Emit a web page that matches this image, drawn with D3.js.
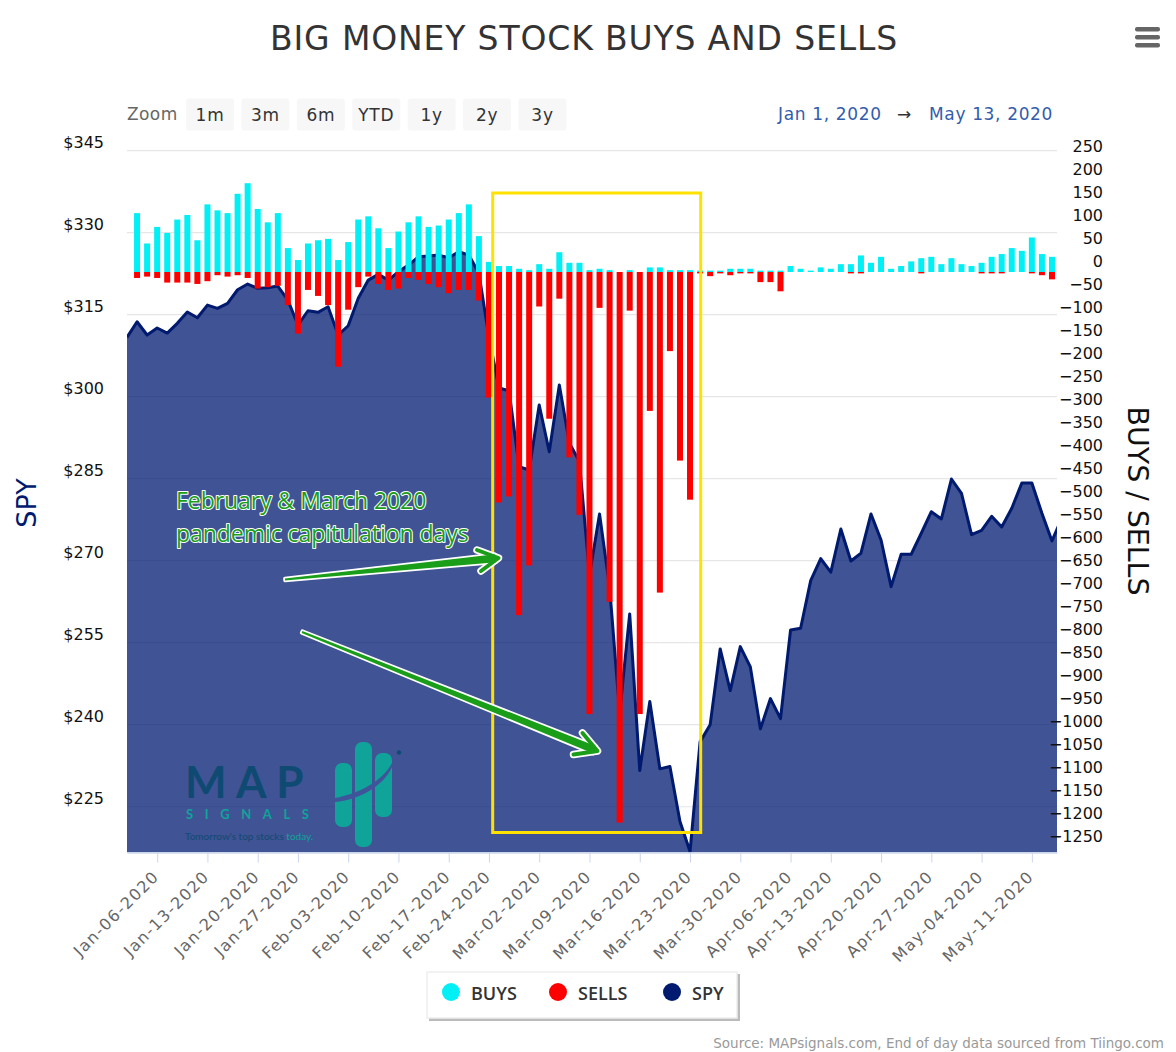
<!DOCTYPE html>
<html>
<head>
<meta charset="utf-8">
<script src="https://cdn.jsdelivr.net/npm/d3@7"></script>
<style>
	html, body { margin: 0; padding: 0; background: #fff; }
	svg { display: block; font-family: "DejaVu Sans", sans-serif; }
</style>
</head>
<body>
<div id="chart"></div>
<script>
// Trading day index 0 = Dec-31-2019, line runs one day past the last bar
const tickDays = [3, 8, 13, 17, 22, 27, 32, 36, 41, 46, 51, 56, 61, 66, 70, 75, 80, 85, 90];
const tickLabels = ["Jan-06-2020", "Jan-13-2020", "Jan-20-2020", "Jan-27-2020", "Feb-03-2020", "Feb-10-2020", "Feb-17-2020", "Feb-24-2020", "Mar-02-2020", "Mar-09-2020", "Mar-16-2020", "Mar-23-2020", "Mar-30-2020", "Apr-06-2020", "Apr-13-2020", "Apr-20-2020", "Apr-27-2020", "May-04-2020", "May-11-2020"];

const spyTicks = [345, 330, 315, 300, 285, 270, 255, 240, 225];
const flowTicks = d3.range(250, -1251, -50);

const spy = [
	310.85, 313.70, 311.27, 312.55, 311.63, 313.41, 315.47, 314.43, 316.75, 316.15,
	317.06, 319.55, 320.59, 319.81, 319.92, 320.23, 317.67, 313.10, 315.71, 315.42,
	316.44, 311.27, 312.97, 317.98, 321.32, 322.36, 321.32, 322.84, 324.06, 325.58,
	325.71, 325.89, 325.40, 326.50, 325.89, 322.55, 310.90, 301.58, 301.08, 287.19,
	286.59, 298.47, 289.93, 302.13, 291.52, 288.11, 267.39, 278.54, 265.20, 242.16,
	260.26, 231.62, 244.23, 231.93, 232.35, 222.29, 216.81, 236.86, 239.98, 253.86,
	246.24, 254.28, 250.58, 239.24, 244.78, 241.12, 257.34, 257.65, 266.35, 270.37,
	267.89, 275.80, 269.95, 271.36, 278.54, 273.79, 265.25, 271.18, 271.18, 275.02,
	278.96, 277.63, 284.94, 282.33, 274.76, 275.56, 278.12, 276.17, 279.59, 284.21,
	284.21, 278.67, 273.61, 277.87
];

// Bars start at trading day 1
const buys = [
	128, 62, 98, 85, 114, 124, 69, 147, 134, 128, 170, 193, 137, 108, 128, 52, 26, 62, 69, 72,
	26, 65, 114, 121, 95, 52, 88, 108, 121, 98, 101, 114, 128, 147, 78,
	22, 13, 13, 7, 4, 17, 7, 43, 20, 20, 4, 7, 4, 0, 4, 0, 10, 10, 4, 4, 4,
	3, 3, 3, 7, 7, 7, 3, 3, 3,
	13, 7, 3, 10, 7, 17, 17, 36, 20, 33, 7, 13, 23, 30, 33, 17, 30, 17, 13, 20, 33, 39, 52, 46, 75, 39, 33
];
const sells = [
	-13, -10, -13, -23, -23, -23, -26, -20, -7, -10, -7, -13, -36, -33, -30, -72, -134, -39, -52, -72,
	-206, -82, -33, -10, -26, -39, -36, -13, -17, -26, -33, -46, -39, -39, -62,
	-273, -501, -488, -746, -638, -75, -319, -58, -403, -528, -961, -78, -717, -1197, -84, -961, -302, -697, -172, -410, -495,
	-3, -9, -3, -7, -3, -3, -22, -22, -42,
	0, 0, 0, 0, 0, 0, -3, -3, 0, 0, 0, 0, 0, -3, 0, 0, 0, 0, 0, -3, -3, -3, 0, 0, -3, -7, -16
];

const zoomLabels = ["1m", "3m", "6m", "YTD", "1y", "2y", "3y"];
const legendItems = [
	{ name: "BUYS", color: "#00f0f5" },
	{ name: "SELLS", color: "#ff0000" },
	{ name: "SPY", color: "#001a70" }
];

// Plot box
const width = 1176, height = 1052;
const plotLeft = 127, plotRight = 1057, plotTop = 149.5, plotBottom = 852.5;

const x = d3.scaleLinear().domain([0, 92.5]).range([plotLeft, plotRight]);
const ySpy = d3.scaleLinear().domain([345.2, 216.63]).range([plotTop, plotBottom]);
const yFlow = d3.scaleLinear().domain([266.3, -1262]).range([plotTop, plotBottom]);

const svg = d3.select("#chart").append("svg")
	.attr("width", width)
	.attr("height", height)
	.attr("viewBox", [0, 0, width, height]);

svg.append("defs").append("clipPath")
	.attr("id", "plot-clip")
	.append("rect")
	.attr("x", plotLeft)
	.attr("y", plotTop - 2)
	.attr("width", plotRight - plotLeft)
	.attr("height", plotBottom - plotTop + 2);

// Title
svg.append("text")
	.attr("x", 584)
	.attr("y", 49.5)
	.attr("text-anchor", "middle")
	.attr("fill", "#333")
	.style("font-size", "33px")
	.style("letter-spacing", "0.85px")
	.text("BIG MONEY STOCK BUYS AND SELLS");

// Menu icon
svg.append("g")
	.selectAll("rect")
	.data([0, 1, 2])
	.join("rect")
	.attr("x", 1135)
	.attr("y", d => 27 + d * 8)
	.attr("width", 25)
	.attr("height", 4.5)
	.attr("rx", 2)
	.attr("fill", "#666");

// Range selector
svg.append("text")
	.attr("x", 127)
	.attr("y", 120)
	.attr("fill", "#666")
	.style("font-size", "17px")
	.style("letter-spacing", "0.4px")
	.text("Zoom");

const buttonScale = d3.scalePoint().domain(zoomLabels).range([210, 542.5]);
const buttons = svg.append("g")
	.selectAll("g")
	.data(zoomLabels)
	.join("g")
	.attr("transform", d => `translate(${buttonScale(d)}, 114.5)`);
buttons.append("rect")
	.attr("x", -24)
	.attr("y", -16)
	.attr("width", 48)
	.attr("height", 32)
	.attr("rx", 3)
	.attr("fill", "#f7f7f7");
buttons.append("text")
	.attr("y", 6)
	.attr("text-anchor", "middle")
	.attr("fill", "#333")
	.style("font-size", "17px")
	.style("letter-spacing", "0.7px")
	.text(d => d);

const rangeText = svg.append("g")
	.attr("fill", "#335cad")
	.style("font-size", "17px")
	.style("letter-spacing", "0.65px");
rangeText.append("text").attr("x", 778).attr("y", 120).text("Jan 1, 2020");
rangeText.append("text").attr("x", 897).attr("y", 120).attr("fill", "#333").text("→");
rangeText.append("text").attr("x", 929).attr("y", 120).text("May 13, 2020");

// Gridlines
svg.append("g")
	.selectAll("line")
	.data(spyTicks)
	.join("line")
	.attr("x1", plotLeft)
	.attr("x2", plotRight)
	.attr("y1", d => ySpy(d))
	.attr("y2", d => ySpy(d))
	.attr("stroke", "#e6e6e6")
	.attr("stroke-width", 1.2);

// SPY area and line
const plot = svg.append("g").attr("clip-path", "url(#plot-clip)");
const spyRows = spy.map((v, i) => [i, v]);

plot.append("path")
	.datum(spyRows)
	.attr("fill", "#001a70")
	.attr("fill-opacity", 0.75)
	.attr("d", d3.area().x(d => x(d[0])).y0(plotBottom).y1(d => ySpy(d[1])));

plot.append("path")
	.datum(spyRows)
	.attr("fill", "none")
	.attr("stroke", "#001a70")
	.attr("stroke-width", 3)
	.attr("stroke-linejoin", "round")
	.attr("d", d3.line().x(d => x(d[0])).y(d => ySpy(d[1])));

// Logo sits on the area
function drawLogo() {
	const logo = svg.append("g");
	logo.append("text")
		.attr("x", 185)
		.attr("y", 797.5)
		.attr("fill", "#0f4a73")
		.style("font-family", "Lato, sans-serif")
		.style("font-size", "44px")
		.style("font-weight", 700)
		.style("letter-spacing", "9.5px")
		.text("MAP");
	logo.append("text")
		.attr("x", 186)
		.attr("y", 819)
		.attr("fill", "#0fa39a")
		.style("font-family", "Lato, sans-serif")
		.style("font-size", "13px")
		.style("font-weight", 700)
		.style("letter-spacing", "11.6px")
		.text("SIGNALS");
	const tag = logo.append("text")
		.attr("x", 185)
		.attr("y", 840)
		.attr("fill", "#0f4a73")
		.style("font-family", "Lato, sans-serif")
		.style("font-size", "10px");
	tag.append("tspan").text("Tomorrow's top stocks ");
	tag.append("tspan").attr("fill", "#0fa39a").text("today.");

	logo.selectAll("rect")
		.data([[335, 763, 64], [355, 742, 105], [375, 753, 64]])
		.join("rect")
		.attr("x", d => d[0])
		.attr("y", d => d[1])
		.attr("width", 17)
		.attr("height", d => d[2])
		.attr("rx", 7)
		.attr("fill", "#0fa39a");
	logo.append("path")
		.attr("d", "M335,798 C358,794 383,781 392,763 L392,767 C383,787 358,800 335,802 Z")
		.attr("fill", "#40549a");
	logo.append("circle")
		.attr("cx", 399)
		.attr("cy", 752.5)
		.attr("r", 2.2)
		.attr("fill", "#0f4a73");
}
drawLogo();

// Buy and sell bars
const barWidth = 6;
svg.append("g")
	.attr("fill", "#00f0f5")
	.selectAll("rect")
	.data(buys)
	.join("rect")
	.attr("x", (d, i) => x(i + 1) - barWidth / 2)
	.attr("y", d => yFlow(d))
	.attr("width", barWidth)
	.attr("height", d => yFlow(0) - yFlow(d));

svg.append("g")
	.attr("fill", "#ff0000")
	.selectAll("rect")
	.data(sells)
	.join("rect")
	.attr("x", (d, i) => x(i + 1) - barWidth / 2)
	.attr("y", yFlow(0))
	.attr("width", barWidth)
	.attr("height", d => yFlow(d) - yFlow(0));

// Axes
const xAxis = svg.append("g")
	.attr("transform", `translate(0, ${plotBottom})`)
	.call(d3.axisBottom(x)
		.tickValues(tickDays)
		.tickFormat((d, i) => tickLabels[i])
		.tickSize(10)
		.tickSizeOuter(0)
		.tickPadding(4));
xAxis.select(".domain")
	.attr("stroke", "#ccd6eb")
	.attr("stroke-width", 1.5);
xAxis.selectAll(".tick line").attr("stroke", "#ccd6eb");
xAxis.selectAll(".tick text")
	.attr("text-anchor", "end")
	.attr("transform", "rotate(-45) translate(-16, -6)")
	.attr("fill", "#666")
	.style("font-family", "\"DejaVu Sans\", sans-serif")
	.style("font-size", "16px")
	.style("letter-spacing", "1.4px");

const leftAxis = svg.append("g")
	.attr("transform", `translate(${plotLeft}, 0)`)
	.call(d3.axisLeft(ySpy)
		.tickValues(spyTicks)
		.tickFormat(d => "$" + d)
		.tickSize(0)
		.tickPadding(23));
leftAxis.select(".domain").remove();
leftAxis.selectAll(".tick text")
	.attr("y", -8)
	.attr("fill", "#111")
	.style("font-family", "\"DejaVu Sans\", sans-serif")
	.style("font-size", "16px");

const rightAxis = svg.append("g")
	.attr("transform", "translate(1103, 0)")
	.call(d3.axisLeft(yFlow)
		.tickValues(flowTicks)
		.tickFormat(d => String(d).replace("-", "\u2212"))
		.tickSize(0)
		.tickPadding(0));
rightAxis.select(".domain").remove();
rightAxis.selectAll(".tick text")
	.attr("y", -11)
	.attr("fill", "#111")
	.style("font-family", "\"DejaVu Sans\", sans-serif")
	.style("font-size", "16px");

// Axis titles
svg.append("text")
	.attr("transform", "translate(36, 503) rotate(-90)")
	.attr("text-anchor", "middle")
	.attr("fill", "#001a70")
	.style("font-size", "27px")
	.text("SPY");
svg.append("text")
	.attr("transform", "translate(1128, 501) rotate(90)")
	.attr("text-anchor", "middle")
	.attr("fill", "#111")
	.style("font-size", "28.4px")
	.text("BUYS / SELLS");

// Annotation box around the capitulation days
svg.append("rect")
	.attr("x", 492.7)
	.attr("y", 193)
	.attr("width", 208)
	.attr("height", 639.5)
	.attr("fill", "none")
	.attr("stroke", "#ffe100")
	.attr("stroke-width", 3);

// Tapered arrow from tail to tip with thick open barbs
function drawArrow(tail, tip, barbA, barbB) {
	const dx = tip[0] - tail[0], dy = tip[1] - tail[1];
	const len = Math.hypot(dx, dy);
	const nx = -dy / len, ny = dx / len;
	const shaft = [
		[tail[0] + nx * 1, tail[1] + ny * 1],
		[tip[0] - dx / len * 3 + nx * 4, tip[1] - dy / len * 3 + ny * 4],
		[tip[0] - dx / len * 3 - nx * 4, tip[1] - dy / len * 3 - ny * 4],
		[tail[0] - nx * 1, tail[1] - ny * 1]
	];
	const head = [barbA, tip, barbB];
	const arrow = svg.append("g")
		.attr("stroke-linejoin", "round")
		.attr("stroke-linecap", "round");
	// white outline first, green on top
	arrow.append("path")
		.attr("d", d3.line()(shaft) + "Z")
		.attr("fill", "#fff")
		.attr("stroke", "#fff")
		.attr("stroke-width", 3.5);
	arrow.append("path")
		.attr("d", d3.line()(head))
		.attr("fill", "none")
		.attr("stroke", "#fff")
		.attr("stroke-width", 7.5);
	arrow.append("path")
		.attr("d", d3.line()(shaft) + "Z")
		.attr("fill", "#1a9e1a");
	arrow.append("path")
		.attr("d", d3.line()(head))
		.attr("fill", "none")
		.attr("stroke", "#1a9e1a")
		.attr("stroke-width", 4);
}
drawArrow([285, 579.5], [498.5, 558], [477, 550], [481, 571]);
drawArrow([302, 632], [597.5, 751], [582.5, 733], [573.5, 754.5]);

const noteLines = ["February & March 2020", "pandemic capitulation days"];
svg.append("g")
	.selectAll("text")
	.data(noteLines)
	.join("text")
	.attr("x", 176)
	.attr("y", (d, i) => 509 + i * 33)
	.attr("fill", "#1a9e1a")
	.attr("stroke", "#fff")
	.attr("stroke-width", 2)
	.attr("stroke-linejoin", "round")
	.style("paint-order", "stroke")
	.style("font-family", "\"Open Sans\", sans-serif")
	.style("font-size", "23px")
	.style("letter-spacing", "-0.05px")
	.text(d => d);

// Legend
svg.append("rect")
	.attr("x", 429)
	.attr("y", 974)
	.attr("width", 311)
	.attr("height", 47)
	.attr("fill", "#bbb");
svg.append("rect")
	.attr("x", 427)
	.attr("y", 972)
	.attr("width", 310)
	.attr("height", 46)
	.attr("fill", "#fff")
	.attr("stroke", "#eee")
	.attr("stroke-width", 1.5);

const legendX = [451, 558, 672];
const legend = svg.append("g")
	.selectAll("g")
	.data(legendItems)
	.join("g")
	.attr("transform", (d, i) => `translate(${legendX[i]}, 992)`);
legend.append("circle")
	.attr("r", 9)
	.attr("fill", d => d.color);
legend.append("text")
	.attr("x", 20)
	.attr("y", 8)
	.attr("fill", "#333")
	.style("font-family", "\"Open Sans\", sans-serif")
	.style("font-size", "18px")
	.style("font-weight", 600)
	.text(d => d.name);

// Credits
svg.append("text")
	.attr("x", 1164)
	.attr("y", 1048)
	.attr("text-anchor", "end")
	.attr("fill", "#999")
	.style("font-size", "13.5px")
	.text("Source: MAPsignals.com, End of day data sourced from Tiingo.com");
</script>
</body>
</html>
